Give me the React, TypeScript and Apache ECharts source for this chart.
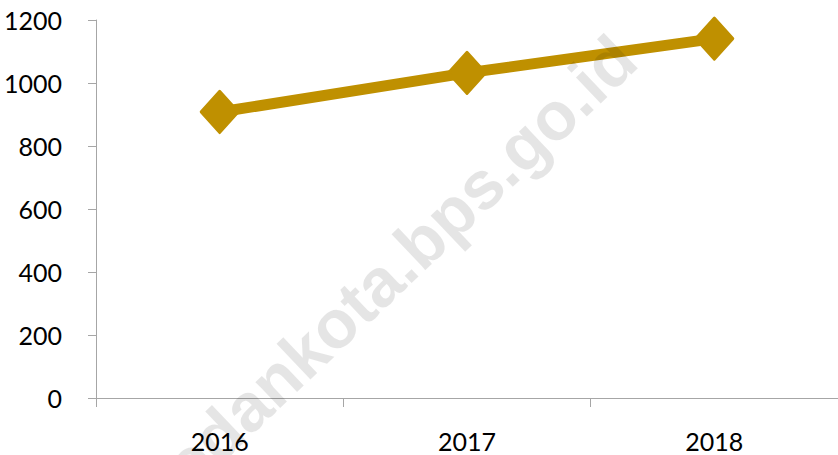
import React, { useEffect, useRef } from "react";
import * as echarts from "echarts";

const categories = ["2016", "2017", "2018"];
const values = [908, 1032, 1141];
const yTicks = { min: 0, max: 1200, interval: 200 };
const watermark = "medankota.bps.go.id";

export default function App() {
  const ref = useRef<HTMLDivElement>(null);
  useEffect(() => {
    document.body.style.margin = "0";
    const chart = echarts.init(ref.current!, null, { renderer: "svg" });
    const axisColor = "#A6A6A6";
    chart.setOption({
      animation: false,
      backgroundColor: "#ffffff",
      grid: { left: 96, right: 0, top: 20, bottom: 57, containLabel: false },
      xAxis: {
        type: "category",
        data: categories,
        boundaryGap: true,
        axisLine: { lineStyle: { color: axisColor, width: 1 } },
        axisTick: { show: true, length: 9, lineStyle: { color: axisColor } },
        axisLabel: { color: "#000", fontFamily: "Lato", fontSize: 25, margin: 30 },
        splitLine: { show: false },
      },
      yAxis: {
        type: "value",
        min: yTicks.min,
        max: yTicks.max,
        interval: yTicks.interval,
        axisLine: { show: true, lineStyle: { color: axisColor, width: 1 } },
        axisTick: { show: true, length: 8, lineStyle: { color: axisColor } },
        axisLabel: {
          color: "#000",
          fontFamily: "Lato",
          fontSize: 25,
          margin: 34,
          formatter: (v: number) => String(v),
        },
        splitLine: { show: false },
      },
      series: [
        {
          type: "line",
          data: values,
          symbol: "diamond",
          symbolSize: [37, 41],
          lineStyle: { color: "#BF9000", width: 11, cap: "round", join: "round" },
          itemStyle: { color: "#BF9000", borderColor: "#BF9000", borderWidth: 3, borderJoin: "round" },
          emphasis: { disabled: true },
        },
      ],
      graphic: [
        {
          type: "text",
          x: 378,
          y: 282,
          rotation: 0.76,
          z: 100,
          silent: true,
          style: {
            text: watermark,
            fontFamily: "Liberation Sans",
            fontWeight: "bold",
            fontSize: 68,
            fill: "rgba(0,0,0,0.10)",
            align: "center",
            verticalAlign: "middle",
          },
        },
      ],
    });
    return () => chart.dispose();
  }, []);
  return <div ref={ref} style={{ width: 838, height: 455 }} />;
}
